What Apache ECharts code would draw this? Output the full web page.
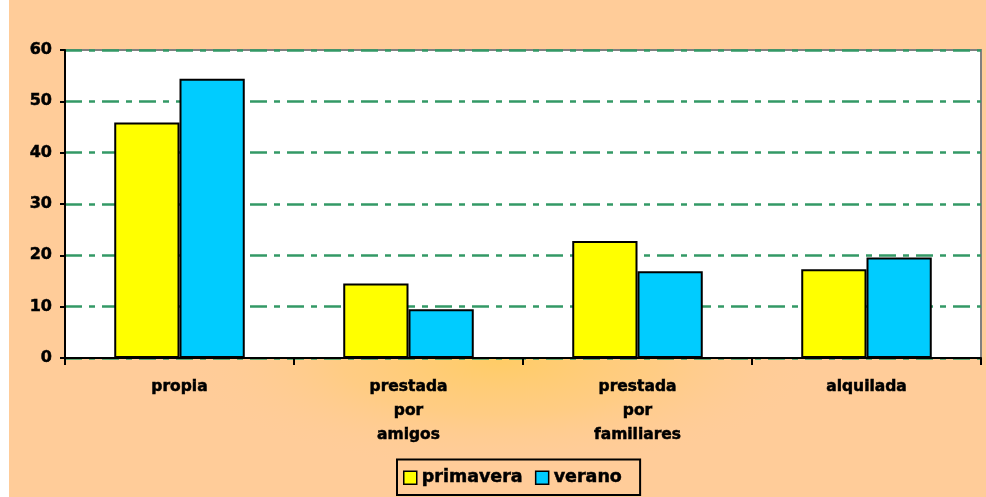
<!DOCTYPE html>
<html>
<head>
<meta charset="utf-8">
<script src="https://cdn.jsdelivr.net/npm/echarts@6/dist/echarts.min.js"></script>
<style>
  html, body { margin: 0; padding: 0; background: #ffffff; }
  #chart { width: 986px; height: 497px; }
</style>
</head>
<body>
<div id="chart"></div>
<script>
// Tipo de vivienda por temporada (%)
const categories = ['propia', 'prestada\npor\namigos', 'prestada\npor\nfamiliares', 'alquilada'];
const primavera = [45.9, 14.5, 22.8, 17.3];
const verano = [54.4, 9.5, 16.9, 19.6];
const yTicks = [0, 10, 20, 30, 40, 50, 60];

const chart = echarts.init(document.getElementById('chart'), null, { renderer: 'canvas' });

const font = 'DejaVu Sans, Verdana, sans-serif';
// a thin outline thickens the bold glyphs a little
const heavy = { textBorderColor: '#000000', textBorderWidth: 0.5 };

chart.setOption({
  backgroundColor: '#ffffff',
  animation: false,
  graphic: [
    {
      type: 'rect',
      z: -20,
      silent: true,
      shape: { x: 9, y: 0, width: 977, height: 497 },
      style: { fill: '#FFCC99' }
    },
    {
      // soft warm glow below the plot
      type: 'circle',
      z: -19,
      silent: true,
      x: 500,
      y: 360,
      scaleX: 2.9,
      scaleY: 1,
      shape: { cx: 0, cy: 0, r: 110 },
      style: {
        fill: {
          type: 'radial', x: 0.5, y: 0.5, r: 0.5,
          colorStops: [
            { offset: 0, color: 'rgba(255,204,102,1)' },
            { offset: 0.5, color: 'rgba(255,204,118,0.6)' },
            { offset: 1, color: 'rgba(255,204,153,0)' }
          ]
        }
      }
    }
  ],
  grid: {
    left: 65, right: 5, top: 50, bottom: 139,
    show: true,
    backgroundColor: '#ffffff',
    borderColor: '#808080',
    borderWidth: 2
  },
  legend: {
    bottom: 2,
    left: 397,
    data: ['primavera', 'verano'],
    itemWidth: 13,
    itemHeight: 13,
    itemGap: 12,
    padding: [9, 18, 8, 6],
    borderColor: '#000000',
    borderWidth: 2,
    icon: 'rect',
    itemStyle: { borderColor: '#000000', borderWidth: 1.5 },
    textStyle: Object.assign({ fontFamily: font, fontSize: 17.5, fontWeight: 'bold', color: '#000000', padding: [0, 0, 0, 0] }, heavy)
  },
  xAxis: {
    type: 'category',
    data: categories,
    boundaryGap: true,
    axisLine: { lineStyle: { color: '#000000', width: 2 } },
    axisTick: { show: true, alignWithLabel: false, length: 7, lineStyle: { color: '#000000', width: 2 } },
    axisLabel: Object.assign({
      margin: 17,
      fontFamily: font,
      fontSize: 15.5,
      fontWeight: 'bold',
      color: '#000000',
      lineHeight: 24
    }, heavy)
  },
  yAxis: {
    type: 'value',
    min: 0,
    max: 60,
    interval: 10,
    axisLine: { show: true, lineStyle: { color: '#000000', width: 2 } },
    axisTick: { show: true, length: 5, lineStyle: { color: '#000000', width: 2 } },
    axisLabel: Object.assign({
      margin: 13,
      fontFamily: font,
      fontSize: 16,
      fontWeight: 'bold',
      color: '#000000',
      formatter: v => (yTicks.includes(v) ? String(v) : '')
    }, heavy),
    splitLine: {
      show: true,
      lineStyle: { color: '#339966', width: 2.5, type: [17, 7, 6, 7] }
    }
  },
  series: [
    {
      name: 'primavera',
      type: 'bar',
      data: primavera,
      barGap: '0%',
      barCategoryGap: '43%',
      itemStyle: { color: '#FFFF00', borderColor: '#000000', borderWidth: 2 }
    },
    {
      name: 'verano',
      type: 'bar',
      data: verano,
      itemStyle: { color: '#00CCFF', borderColor: '#000000', borderWidth: 2 }
    }
  ]
});
</script>
</body>
</html>
